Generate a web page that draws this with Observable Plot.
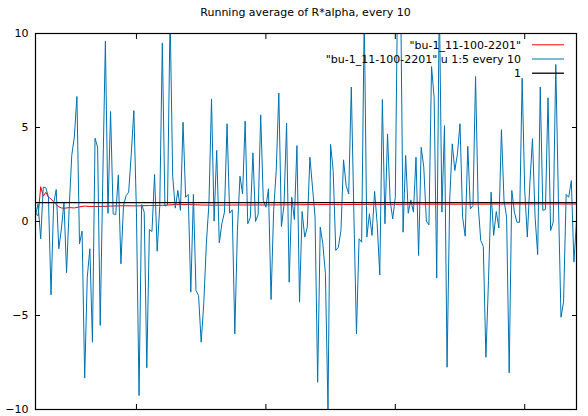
<!DOCTYPE html>
<html>
<head>
<meta charset="utf-8">
<script src="https://cdn.jsdelivr.net/npm/d3@7"></script>
<script src="https://cdn.jsdelivr.net/npm/@observablehq/plot@0.6"></script>
<style>
  html, body { margin: 0; padding: 0; background: #fff; }
  #title {
    width: 588px; height: 24px; box-sizing: border-box;
    padding-left: 23px; padding-top: 2px;
    text-align: center; line-height: 22px;
    font-family: "DejaVu Sans", sans-serif; font-size: 11px; color: #000;
  }
  #chart svg { display: block; }
</style>
</head>
<body>
<div id="title">Running average of R*alpha, every 10</div>
<div id="chart"></div>
<script>
// x column of the data file: first sample and sampling step ("every 10")
const xStart = 110;
const xStep = 10;
const xDomain = [110, 2200];
const yDomain = [-10, 10];
const xTicks = [500, 1000, 1500, 2000];
const yTicks = [-10, -5, 0, 5, 10];

// "bu-1_11-100-2201" u 1:5 every 10
const blueValues = [
  0.32, 0.94, -0.92, 1.83, 1.79, 1.3, -3.9, 0.94, 1.70, -1.45,
  -0.4, 1.03, -2.73, 0.67, 3.51, 4.49, 6.65, -1.19, -0.51, -8.33,
  -2.96, -1.45, -6.42, 4.43, 3.95, -5.53, 2.3, 9.59, 0.44, 5.85,
  0.41, 0.37, 2.48, -2.25, 0.85, 1.38, 1.56, 3.6, 5.9, 0.5,
  -9.26, 0.9, 0.5, -7.78, -0.43, -0.53, 2.5, -1.58, 0.8, 9.5,
  0.82, 0.89, 11, 2.4, 0.71, 1.65, 0.59, 5.28, 1.29, 1.44,
  -3.76, 1.44, -3.67, -3.94, -6.42, -4.38, -1.19, 0.94, 6.52, 0.02,
  3.78, -1.13, -0.12, 0.5, 5.2, 0.44, 0.62, -5.98, -0.48, 2.41,
  1.47, 5.34, -0.12, 0.23, 3.65, 0.0, 0.37, 5.67, 1.12, 0.76,
  1.74, -4.15, 0.59, 2.71, 6.83, -0.27, 0.85, 5.23, -3.23, 1.29,
  0.11, 4.04, -4.29, 0.53, -0.83, -0.3, 3.42, 1.83, 0.23, -8.55,
  -0.3, -1.19, -2.78, -10.05, 4.1, 2.71, -1.54, -1.37, -0.48, 3.28,
  1.91, 1.47, 7.15, 0.41, -5.98, -0.92, -1.1, 11, -0.83, 0.41,
  -0.74, 1.6, -0.12, -2.84, 6.49, -0.12, 4.66, 1.12, 0.14, 1.29,
  14, 13, -0.57, 3.51, 0.44, 1.15, 0.5, 3.42, -1.81, 3.95,
  2.89, 0.02, -0.18, 8.24, 6.6, -3.01, 12, 0.5, 5.1, -7.75,
  1.12, 4.13, 2.71, 3.6, 5.2, 0.23, -0.78, 4.0, 0.67, 0.85,
  7.71, 0.94, -1.01, -1.33, -7.22, -3.14, 1.56, -0.74, 0.53, -0.34,
  4.88, 1.12, 0.23, -8.05, 1.65, 0.5, -0.04, -0.04, 7.62, 1.65,
  -0.83, 2.09, 4.4, 0.23, -1.76, 7.15, 0.59, 0.64, 6.58, -0.48,
  -0.04, 8.35, 1.21, -5.09, -4.29, 1.44, 1.29, 2.18, -2.16, 0.0
];

// "bu-1_11-100-2201" (running average)
const redX = [110, 120, 130, 140, 150, 160, 170, 180, 190, 200, 210, 220, 240, 260, 280, 300,
  320, 360, 400, 450, 500, 550, 600, 650, 700, 750, 800, 900, 1000, 1100, 1200, 1300,
  1400, 1500, 1600, 1700, 1800, 1900, 2000, 2100, 2200];
const redY = [0.45, 0.3, 1.85, 1.35, 1.55, 1.3, 1.2, 1.05, 0.9, 0.78, 0.72, 0.7, 0.74, 0.72, 0.78, 0.82,
  0.8, 0.8, 0.82, 0.84, 0.83, 0.85, 0.86, 0.9, 0.9, 0.88, 0.87, 0.88, 0.88, 0.89, 0.9, 0.9,
  0.91, 0.91, 0.92, 0.92, 0.92, 0.93, 0.93, 0.93, 0.93];

// constant series "1"
const refLevel = [1];

const legendLabels = ['"bu-1_11-100-2201"', '"bu-1_11-100-2201" u 1:5 every 10', '1'];
const legendColors = ['#ff0000', '#0072b2', '#000000'];
const legendWidths = [1, 1, 1.3];

const redData = redX.map((x, i) => ({x, y: redY[i]}));
const blueData = blueValues.map((y, i) => ({x: xStart + i * xStep, y}));

const svg = Plot.plot({
  width: 588,
  height: 392,
  marginTop: 9,
  marginBottom: 7,
  marginLeft: 35,
  marginRight: 12,
  style: {fontFamily: "DejaVu Sans, sans-serif", fontSize: "11px", color: "#000", background: "#fff"},
  x: {domain: xDomain},
  y: {domain: yDomain},
  marks: [
    Plot.line(redData, {x: "x", y: "y", stroke: legendColors[0], strokeWidth: legendWidths[0], clip: true}),
    Plot.line(blueData, {x: "x", y: "y", stroke: legendColors[1], strokeWidth: legendWidths[1], clip: true}),
    Plot.ruleY(refLevel, {stroke: legendColors[2], strokeWidth: legendWidths[2]}),
    Plot.frame({stroke: "#000", strokeWidth: 1.2}),
    Plot.axisY({anchor: "left", ticks: yTicks, tickSize: -5, tickPadding: 12, label: null, fontSize: 11}),
    Plot.axisY({anchor: "right", ticks: yTicks, tickSize: -5, fill: "none", label: null}),
    Plot.axisX({anchor: "bottom", ticks: xTicks, tickSize: -5, fill: "none", label: null}),
    Plot.axisX({anchor: "top", ticks: xTicks, tickSize: -5, fill: "none", label: null})
  ]
});

// key, top right inside the frame
const key = d3.select(svg).append("g").attr("font-family", "DejaVu Sans, sans-serif").attr("font-size", 11);
const keyRight = 521, keyLineX1 = 532, keyLineX2 = 564, keyTop = 20.8, keyStep = 14.2;
legendLabels.forEach((lab, i) => {
  const cy = keyTop + i * keyStep;
  key.append("text").attr("x", keyRight).attr("y", cy).attr("dy", "0.35em")
    .attr("text-anchor", "end").attr("fill", "#000").text(lab);
  key.append("line").attr("x1", keyLineX1).attr("x2", keyLineX2).attr("y1", cy).attr("y2", cy)
    .attr("stroke", legendColors[i]).attr("stroke-width", legendWidths[i]);
});

document.getElementById("chart").appendChild(svg);
</script>
</body>
</html>
